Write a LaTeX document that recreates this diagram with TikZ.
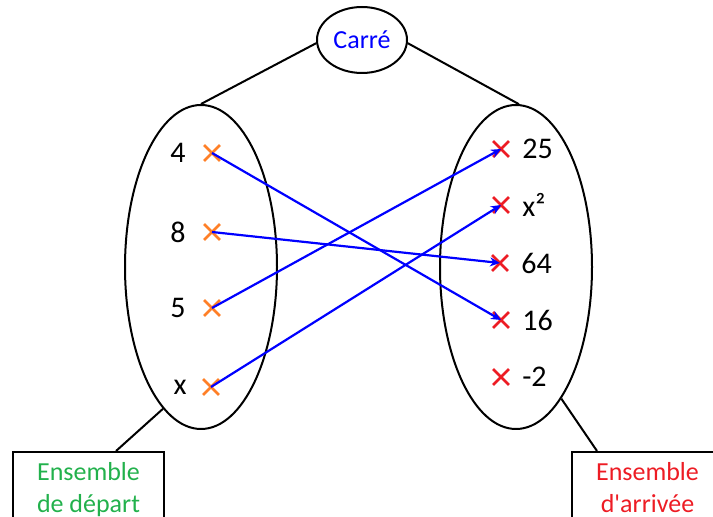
\documentclass[tikz,border=0pt]{standalone}
\usepackage{fontspec}
\newfontfamily\calibri{Carlito}
\usetikzlibrary{arrows.meta, shapes.geometric, shapes.misc, positioning, calc}
\definecolor{bleu}{RGB}{0,0,255}
\definecolor{vert}{RGB}{34,177,76}
\definecolor{rouge}{RGB}{237,28,36}
\definecolor{croixorange}{RGB}{255,127,39}

\begin{document}
\begin{tikzpicture}[x=0.5pt, y=-0.5pt, >=Stealth,
        every node/.style={font=\calibri\fontsize{13}{16}\selectfont},
        ensemble/.style={draw, line width=1pt, ellipse, minimum width=76pt, minimum height=162pt, inner sep=0pt},
        croix/.style={draw, cross out, line width=1.4pt, minimum size=6.5pt, inner sep=0pt},
        valeur/.style={font=\calibri\fontsize{15}{18}\selectfont, inner sep=2pt},
        fleche/.style={-{Stealth[length=5pt, width=4.5pt]}, bleu, line width=1.1pt},
        boite/.style={draw, line width=1pt, anchor=north west, minimum width=75.5pt, align=center, inner ysep=5pt},
        trait/.style={line width=1pt}]
        \useasboundingbox (0,0) rectangle (713,517);
        \clip (0,0) rectangle (713,517);

        % --- Carre (fonction) ---
        \node[ensemble, minimum width=45pt, minimum height=33pt, text=bleu] (carre) at (362,40) {Carré};

        % --- Ensemble de depart ---
        \node[ensemble] (depart) at (201,267) {};
        \node[croix, croixorange] (c4) at (212,153) {};
        \node[croix, croixorange] (c8) at (212,232) {};
        \node[croix, croixorange] (c5) at (212,308) {};
        \node[croix, croixorange] (cx) at (211,387) {};
        \node[valeur, left=7pt of c4] (l4) {4};
        \node[valeur, left=7pt of c8] (l8) {8};
        \node[valeur, left=7pt of c5] (l5) {5};
        \node[valeur, left=6pt of cx] (lx) {x};

        % --- Ensemble d'arrivee ---
        \node[ensemble] (arrivee) at (516,267) {};
        \node[croix, rouge] (c25) at (501,149) {};
        \node[croix, rouge] (cx2) at (501,205) {};
        \node[croix, rouge] (c64) at (500,263) {};
        \node[croix, rouge] (c16) at (501,320) {};
        \node[croix, rouge] (cm2) at (501,377) {};
        \node[valeur, right=4.5pt of c25] (l25) {25};
        \node[valeur, right=4.5pt of cx2] (lx2) {x²};
        \node[valeur, right=4.5pt of c64] (l64) {64};
        \node[valeur, right=4.5pt of c16] (l16) {16};
        \node[valeur, right=4.5pt of cm2] (lm2) {-2};

        % --- Traits vers la fonction ---
        \draw[trait] (carre.184) -- (depart.90);
        \draw[trait] (carre.356) -- (arrivee.89);

        % --- Fleches ---
        \draw[fleche] (c4.center) -- (c16.center);
        \draw[fleche] (c8.center) -- (c64.center);
        \draw[fleche] (c5.center) -- (c25.center);
        \draw[fleche] (cx.center) -- (cx2.center);

        % --- Boites ---
        \node[boite, text=vert] (bdepart) at (12,451) {Ensemble\\de départ};
        \node[boite, text=rouge] (barrivee) at (571,451) {Ensemble\\d'arrivée};
        \draw[trait] (depart.255) -- ($(bdepart.north west)!0.68!(bdepart.north east)$);
        \draw[trait] (arrivee.289) -- ($(barrivee.north west)!0.17!(barrivee.north east)$);
    \end{tikzpicture}
\end{document}
